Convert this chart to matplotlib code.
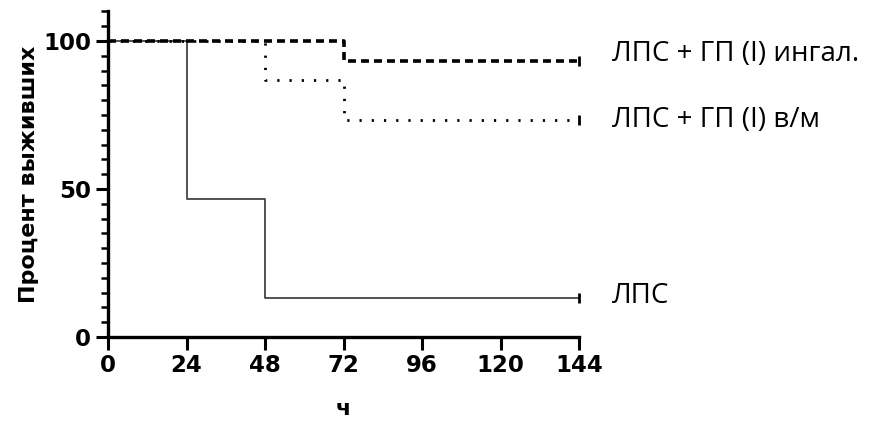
import matplotlib
matplotlib.use('Agg')
import matplotlib.pyplot as plt
from matplotlib.ticker import MultipleLocator

# survival steps (hours, percent)
t_lps = [0, 24, 48, 144]
s_lps = [100, 46.7, 13.3, 13.3]
t_inh = [0, 72, 144]
s_inh = [100, 93.3, 93.3]
t_im = [0, 48, 72, 144]
s_im = [100, 86.7, 73.3, 73.3]

labels = ['ЛПС + ГП (I) ингал.', 'ЛПС + ГП (I) в/м', 'ЛПС']
x_ticks = [0, 24, 48, 72, 96, 120, 144]
y_ticks = [0, 50, 100]

fig = plt.figure(figsize=(8.71, 4.30), dpi=100)
ax = fig.add_axes([108 / 871, 1 - 337 / 430, 471 / 871, 325.6 / 430])

ax.step(t_lps, s_lps, where='post', color='#444444', linewidth=1.3, clip_on=False)
ax.step(t_im, s_im, where='post', color='black', linewidth=2.0,
        linestyle=(0, (0.8, 3.6)), clip_on=False)
ax.step(t_inh, s_inh, where='post', color='black', linewidth=2.6,
        linestyle=(0, (2.2, 1.4)), clip_on=False)

# censor marks at the end
for t, s in [(t_lps, s_lps), (t_inh, s_inh), (t_im, s_im)]:
    ax.plot(t[-1], s[-1], marker='|', color='black', markersize=7,
            markeredgewidth=2, clip_on=False)

ax.set_xlim(0, 144)
ax.set_ylim(0, 110)
ax.set_xticks(x_ticks)
ax.set_yticks(y_ticks)
ax.yaxis.set_minor_locator(MultipleLocator(5))

for sp in ['top', 'right']:
    ax.spines[sp].set_visible(False)
for sp in ['left', 'bottom']:
    ax.spines[sp].set_linewidth(2.4)

ax.tick_params(axis='both', which='major', length=9, width=2.2, direction='out',
               labelsize=16.5, pad=3)
ax.tick_params(axis='y', which='minor', length=5, width=1.8, direction='out')
for lab in ax.get_xticklabels() + ax.get_yticklabels():
    lab.set_fontweight('bold')
    lab.set_family('DejaVu Sans')

ax.set_xlabel('ч', fontsize=16, fontweight='bold', family='DejaVu Sans', labelpad=16)
ax.set_ylabel('Процент выживших', fontsize=16, fontweight='bold',
              family='DejaVu Sans', labelpad=3)

label_y = [s_inh[-1], s_im[-1], s_lps[-1]]
label_dy = [5, 0, 1]  # points
for txt, yv, dy in zip(labels, label_y, label_dy):
    ax.annotate(txt, xy=(144, yv), xytext=(24, dy), textcoords='offset points',
                fontsize=20, family='Open Sans', va='center', ha='left',
                annotation_clip=False)

fig.savefig('out.png', dpi=100)
